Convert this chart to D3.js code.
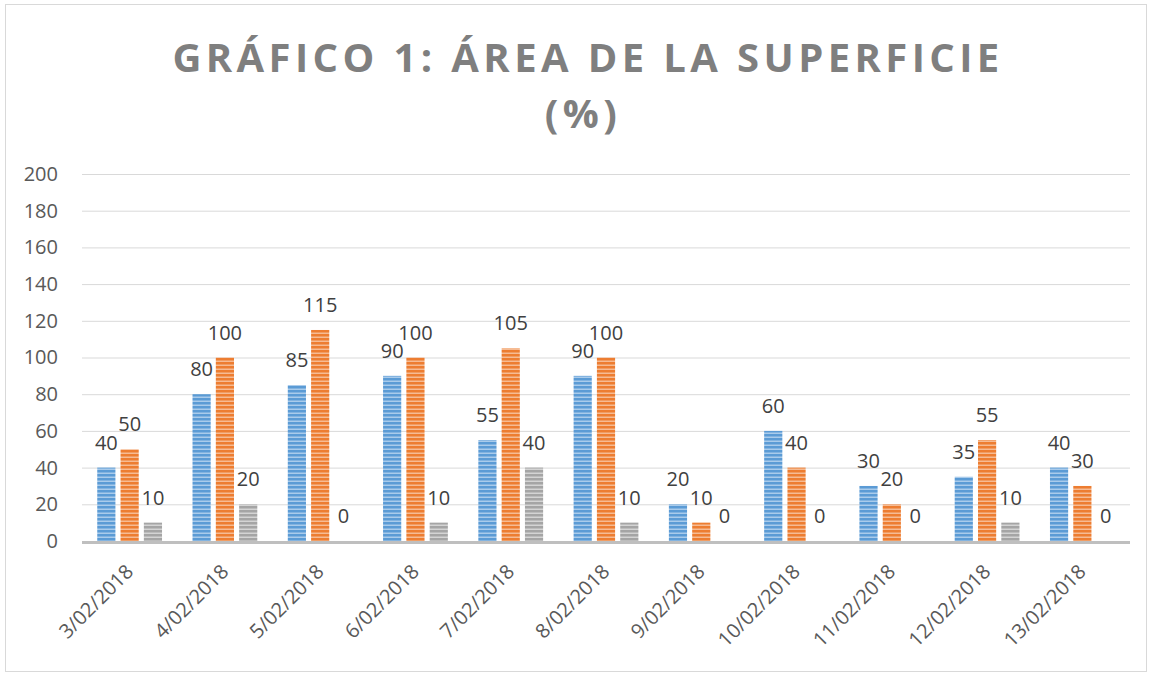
<!DOCTYPE html>
<html>
<head>
<meta charset="utf-8">
<script src="https://cdn.jsdelivr.net/npm/d3@7"></script>
<style>
  body { margin: 0; background: #fff; }
  text { font-family: "Open Sans", sans-serif; }
</style>
</head>
<body>
<svg id="chart" width="1153" height="675"></svg>
<script>
// data
const fechas = ["3/02/2018", "4/02/2018", "5/02/2018", "6/02/2018", "7/02/2018", "8/02/2018",
  "9/02/2018", "10/02/2018", "11/02/2018", "12/02/2018", "13/02/2018"];
const serie1 = [40, 80, 85, 90, 55, 90, 20, 60, 30, 35, 40];
const serie2 = [50, 100, 115, 100, 105, 100, 10, 40, 20, 55, 30];
const serie3 = [10, 20, 0, 10, 40, 10, 0, 0, 0, 10, 0];
const yTicks = [0, 20, 40, 60, 80, 100, 120, 140, 160, 180, 200];
const titulo = ["GRÁFICO 1: ÁREA DE LA SUPERFICIE", "(%)"];

const series = [
  { key: "s1", values: serie1, color: "#5b9bd5", light: "#a9cbeb" },
  { key: "s2", values: serie2, color: "#ed7d31", light: "#f6bb93" },
  { key: "s3", values: serie3, color: "#a5a5a5", light: "#d4d4d4" }
];

const svg = d3.select("#chart");
const margin = { top: 174, left: 82, right: 23, bottom: 134 };
const W = 1153, H = 675;
const width = W - margin.left - margin.right;
const height = H - margin.top - margin.bottom;

// stripe patterns
const defs = svg.append("defs");
series.forEach(s => {
  const p = defs.append("pattern")
    .attr("id", "pat-" + s.key)
    .attr("patternUnits", "userSpaceOnUse")
    .attr("width", 8).attr("height", 4);
  p.append("rect").attr("width", 8).attr("height", 4).attr("fill", s.color);
  p.append("rect").attr("y", 2.5).attr("width", 8).attr("height", 1.5).attr("fill", s.light);
});

// frame
svg.append("rect")
  .attr("x", 5.5).attr("y", 4.5)
  .attr("width", 1141).attr("height", 667)
  .attr("fill", "#fff").attr("stroke", "#d9d9d9");

// title
svg.append("text")
  .attr("text-anchor", "middle")
  .attr("fill", "#7f7f7f")
  .style("font-weight", "bold")
  .style("font-size", "40px")
  .style("letter-spacing", "4.4px")
  .selectAll("tspan")
  .data(titulo)
  .enter().append("tspan")
  .attr("x", (d, i) => i === 0 ? 588 : 583)
  .attr("y", (d, i) => 72 + i * 56)
  .text(d => d);

const g = svg.append("g").attr("transform", `translate(${margin.left},${margin.top})`);

const x0 = d3.scaleBand().domain(fechas).range([0, width]).paddingInner(0.32).paddingOuter(0.16);
const x1 = d3.scaleBand().domain(series.map(s => s.key)).range([0, x0.bandwidth()]).paddingInner(0.22);
const y = d3.scaleLinear().domain([0, 200]).range([height, 0]);

// gridlines
g.append("g")
  .selectAll("line")
  .data(yTicks.filter(t => t > 0))
  .enter().append("line")
  .attr("x1", 0).attr("x2", width)
  .attr("y1", d => y(d) + 0.5).attr("y2", d => y(d) + 0.5)
  .attr("stroke", "#d9d9d9");

// y axis labels
const yAxis = g.append("g")
  .call(d3.axisLeft(y).tickValues(yTicks).tickSize(0).tickPadding(24));
yAxis.select(".domain").remove();
yAxis.selectAll("text")
  .style("font-size", "20px")
  .attr("fill", "#595959");

// bars
const grupos = g.selectAll(".grupo")
  .data(fechas)
  .enter().append("g")
  .attr("class", "grupo")
  .attr("transform", d => `translate(${x0(d)},0)`);

grupos.each(function(f, i) {
  const sel = d3.select(this);
  series.forEach(s => {
    const v = s.values[i];
    sel.append("rect")
      .attr("x", x1(s.key))
      .attr("y", y(v))
      .attr("width", x1.bandwidth())
      .attr("height", y(0) - y(v))
      .attr("fill", `url(#pat-${s.key})`);
    sel.append("text")
      .attr("x", x1(s.key) + x1.bandwidth() / 2)
      .attr("y", y(v) - 18)
      .attr("text-anchor", "middle")
      .style("font-size", "20px")
      .attr("fill", "#404040")
      .text(v);
  });
});

// x axis
const xAxis = g.append("g")
  .attr("transform", `translate(0,${height})`)
  .call(d3.axisBottom(x0).tickSize(0).tickPadding(14));
xAxis.select(".domain").remove();
xAxis.selectAll("text")
  .style("font-size", "20px")
  .attr("fill", "#595959")
  .attr("text-anchor", "end")
  .attr("dy", "0.35em")
  .attr("transform", "translate(-10,17) rotate(-45)");

g.append("line")
  .attr("x1", 0).attr("x2", width)
  .attr("y1", y(0) + 1.5).attr("y2", y(0) + 1.5)
  .attr("stroke", "#bfbfbf")
  .attr("stroke-width", 3);
</script>
</body>
</html>
